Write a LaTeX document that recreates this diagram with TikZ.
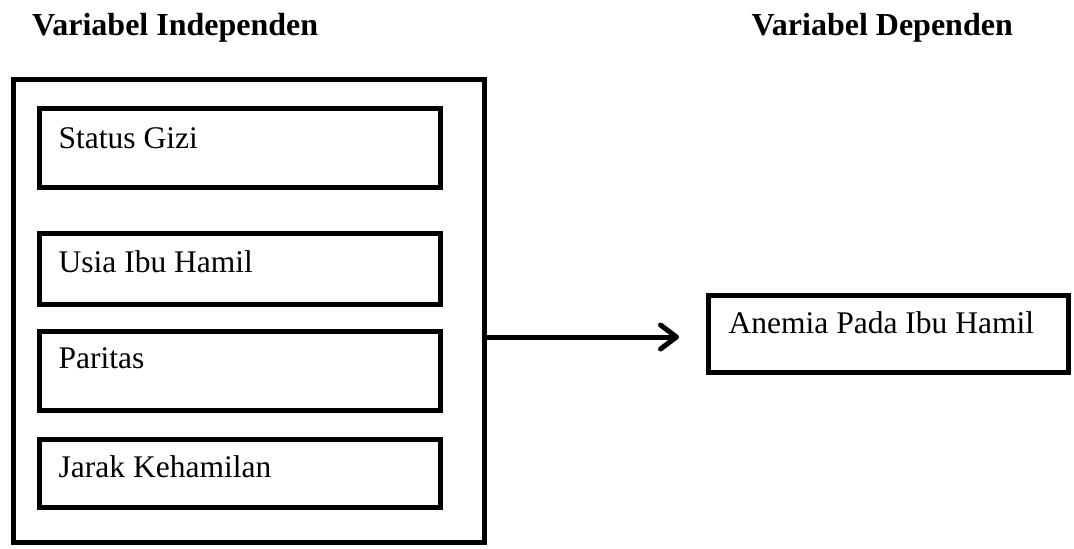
\documentclass[tikz,border=0pt]{standalone}
\usepackage{fontspec}
\setmainfont{Liberation Serif}
\usetikzlibrary{arrows.meta,calc}
\begin{document}
\begin{tikzpicture}[x=1pt,y=-1pt,
  frame/.style={draw=black,line width=5.5pt,rectangle,inner sep=0pt,outer sep=0pt,anchor=north west},
  lbl/.style={anchor=base west,inner sep=0pt,font=\fontsize{31.5}{36}\selectfont},
  head/.style={inner sep=0pt,font=\fontsize{32}{36}\selectfont\bfseries},
  arr/.style={line width=5pt,-{Straight Barb[length=16pt,width=24pt,line cap=round,line join=round]}}]
\useasboundingbox (0,0) rectangle (1074,549);
% headers
\node[head,anchor=base west] (hi) at (32,35) {Variabel Independen};
\node[head,anchor=base east] (hd) at (1013,35) {Variabel Dependen};
% outer box
\node[frame,minimum width=471pt,minimum height=463pt] (outer) at (13.5,79.5) {};
% inner boxes
\node[frame,minimum width=401pt,minimum height=79pt] (sg) at (39.5,108.5) {};
\node[lbl] (sgt) at ($(sg.north west)+(19,39.5)$) {Status Gizi};
\node[frame,minimum width=401pt,minimum height=71pt] (us) at (39.5,233.5) {};
\node[lbl] (ust) at ($(us.north west)+(19,38.5)$) {Usia Ibu Hamil};
\node[frame,minimum width=401pt,minimum height=79pt] (pa) at (39.5,331.5) {};
\node[lbl] (pat) at ($(pa.north west)+(19,36.5)$) {Paritas};
\node[frame,minimum width=401pt,minimum height=68pt] (ja) at (39.5,439.5) {};
\node[lbl] (jat) at ($(ja.north west)+(19,37.5)$) {Jarak Kehamilan};
% dependent box
\node[frame,minimum width=360pt,minimum height=77pt] (an) at (708.5,295.5) {};
\node[lbl] (ant) at ($(an.north west)+(20,37.5)$) {Anemia Pada Ibu Hamil};
% arrow
\coordinate (tip) at (679,337);
\draw[arr] (outer.east |- tip) -- (tip);
\end{tikzpicture}
\end{document}
